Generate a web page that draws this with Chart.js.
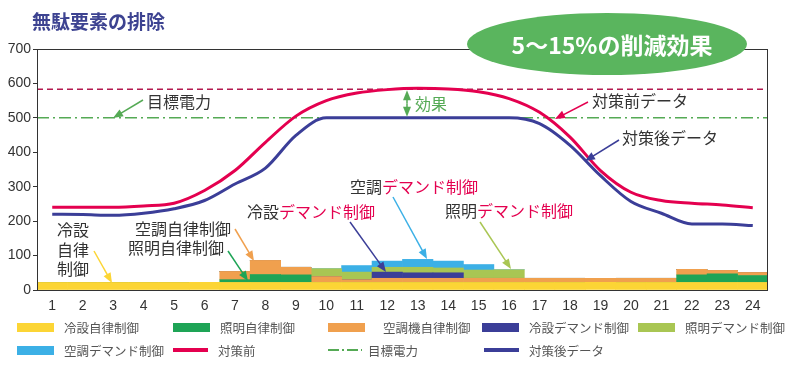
<!DOCTYPE html>
<html lang="ja">
<head>
<meta charset="utf-8">
<script src="https://cdn.jsdelivr.net/npm/chart.js@4.4.1/dist/chart.umd.min.js"></script>
<style>
    body { margin: 0; background: #fff; }
    #quadro { position: relative; width: 800px; height: 365px; overflow: hidden; }
    #legenda .item { position: absolute; display: flex; align-items: center; height: 18px;
        font: 12.5px "Noto Sans CJK JP", sans-serif; color: #555; white-space: nowrap; }
    #legenda .amostra { flex: none; }
</style>
</head>
<body>
<div id="quadro">
    <canvas id="grafico-demanda" width="800" height="365"></canvas>
    <div id="legenda"></div>
</div>
<script>
// Dados do gráfico
const horas = ["1", "2", "3", "4", "5", "6", "7", "8", "9", "10", "11", "12",
    "13", "14", "15", "16", "17", "18", "19", "20", "21", "22", "23", "24"];

const reitoJiritsu = [22, 22, 22, 22, 22, 22, 22, 22, 22, 22, 22, 22, 22, 22, 22, 22, 22, 22, 22, 22, 22, 22, 22, 22];
const shomeiJiritsu = [0, 0, 0, 0, 0, 0, 8, 23, 22, 0, 0, 0, 0, 0, 0, 0, 0, 0, 0, 0, 0, 22, 25, 20];
const kuchoJiritsu = [0, 0, 0, 0, 0, 0, 24, 41, 22, 17, 8, 12, 12, 12, 12, 12, 12, 12, 12, 12, 12, 16, 10, 9];
const reitoDemand = [0, 0, 0, 0, 0, 0, 0, 0, 0, 0, 0, 18, 16, 16, 0, 0, 0, 0, 0, 0, 0, 0, 0, 0];
const shomeiDemand = [0, 0, 0, 0, 0, 0, 0, 0, 0, 23, 22, 14, 16, 14, 24, 25, 0, 0, 0, 0, 0, 0, 0, 0];
const kuchoDemand = [0, 0, 0, 0, 0, 0, 0, 0, 0, 0, 19, 18, 23, 20, 16, 0, 0, 0, 0, 0, 0, 0, 0, 0];

const taisakuMae = [240, 240, 240, 244, 252, 289, 347, 429, 505, 550, 572, 582, 586, 584, 576, 556, 516, 444, 347, 284, 260, 252, 247, 239];
const taisakuGo = [220, 219, 217, 223, 236, 260, 308, 354, 449, 500, 500, 500, 500, 500, 500, 500, 483, 420, 332, 257, 223, 192, 192, 187];

const mokuhyoDenryoku = 500;
const picoAntes = 583;

// Cores
const amarelo = "#fcd535";
const verde = "#1ea456";
const laranja = "#f0a04e";
const azulEscuro = "#3b3e98";
const verdeClaro = "#a9c653";
const azulClaro = "#3cb0e6";
const vermelho = "#e4004f";
const verdeMeta = "#55aa55";
const texto = "#333";

const fonteJp = '"Noto Sans CJK JP", sans-serif';

// Datasets
const barra = (label, data, cor) => ({
    type: "bar", label, data, backgroundColor: cor, stack: "barras",
    barPercentage: 1, categoryPercentage: 1, borderWidth: 0
});

const dadosDemanda = {
    labels: horas,
    datasets: [
        {
            type: "line", label: "対策前", data: taisakuMae, stack: "antes",
            borderColor: vermelho, borderWidth: 3, pointRadius: 0,
            cubicInterpolationMode: "monotone", fill: false
        },
        {
            type: "line", label: "対策後データ", data: taisakuGo, stack: "depois",
            borderColor: azulEscuro, borderWidth: 3, pointRadius: 0,
            cubicInterpolationMode: "monotone", fill: false
        },
        barra("冷設自律制御", reitoJiritsu, amarelo),
        barra("照明自律制御", shomeiJiritsu, verde),
        barra("空調機自律制御", kuchoJiritsu, laranja),
        barra("冷設デマンド制御", reitoDemand, azulEscuro),
        barra("照明デマンド制御", shomeiDemand, verdeClaro),
        barra("空調デマンド制御", kuchoDemand, azulClaro)
    ]
};

// Anotações (posições em pixels da figura)
const anotacoes = [
    { partes: [["目標電力", texto]], x: 147, y: 102, seta: [143, 100, 113, 118], corSeta: verdeMeta },
    { partes: [["対策前データ", texto]], x: 592, y: 101, seta: [588, 102, 555, 119], corSeta: vermelho },
    { partes: [["対策後データ", texto]], x: 622, y: 138, seta: [619, 140, 585, 161], corSeta: azulEscuro },
    { partes: [["冷設", texto]], x: 57, y: 230 },
    { partes: [["自律", texto]], x: 57, y: 250 },
    { partes: [["制御", texto]], x: 57, y: 269, seta: [94, 251, 112, 283], corSeta: amarelo },
    { partes: [["空調自律制御", texto]], x: 135, y: 229, seta: [235, 229, 254, 261], corSeta: laranja },
    { partes: [["照明自律制御", texto]], x: 128, y: 248, seta: [228, 251, 248, 281], corSeta: verde },
    { partes: [["冷設", texto], ["デマンド制御", vermelho]], x: 247, y: 212, seta: [350, 222, 386, 272], corSeta: azulEscuro },
    { partes: [["空調", texto], ["デマンド制御", vermelho]], x: 350, y: 187, seta: [393, 197, 427, 259], corSeta: azulClaro },
    { partes: [["照明", texto], ["デマンド制御", vermelho]], x: 445, y: 211, seta: [480, 222, 511, 269], corSeta: verdeClaro }
];

function desenharSeta(ctx, x1, y1, x2, y2, cor) {
    const ang = Math.atan2(y2 - y1, x2 - x1);
    const tam = 10, larg = 4;
    ctx.strokeStyle = cor;
    ctx.fillStyle = cor;
    ctx.lineWidth = 1.5;
    ctx.setLineDash([]);
    ctx.beginPath();
    ctx.moveTo(x1, y1);
    ctx.lineTo(x2 - Math.cos(ang) * tam * 0.7, y2 - Math.sin(ang) * tam * 0.7);
    ctx.stroke();
    ctx.beginPath();
    ctx.moveTo(x2, y2);
    ctx.lineTo(x2 - tam * Math.cos(ang) + larg * Math.sin(ang), y2 - tam * Math.sin(ang) - larg * Math.cos(ang));
    ctx.lineTo(x2 - tam * Math.cos(ang) - larg * Math.sin(ang), y2 - tam * Math.sin(ang) + larg * Math.cos(ang));
    ctx.closePath();
    ctx.fill();
}

// Plugin: linhas de referência, moldura, título e anotações
const pluginDesenho = {
    id: "desenho",
    beforeDatasetsDraw(chart) {
        const { ctx, chartArea, scales } = chart;
        ctx.save();
        // linha tracejada do pico antes
        let y = scales.y.getPixelForValue(picoAntes);
        ctx.strokeStyle = "#b3194f";
        ctx.lineWidth = 1.5;
        ctx.setLineDash([6, 4]);
        ctx.beginPath();
        ctx.moveTo(chartArea.left, y);
        ctx.lineTo(chartArea.right, y);
        ctx.stroke();
        // linha da meta (traço-ponto)
        y = scales.y.getPixelForValue(mokuhyoDenryoku);
        ctx.strokeStyle = verdeMeta;
        ctx.setLineDash([12, 4, 2, 4]);
        ctx.beginPath();
        ctx.moveTo(chartArea.left, y);
        ctx.lineTo(chartArea.right, y);
        ctx.stroke();
        ctx.restore();
    },
    afterDraw(chart) {
        const { ctx, chartArea, scales } = chart;
        ctx.save();
        // moldura
        ctx.strokeStyle = "#333";
        ctx.lineWidth = 1;
        ctx.strokeRect(chartArea.left + 0.5, chartArea.top + 0.5, chartArea.right - chartArea.left - 1, chartArea.bottom - chartArea.top);

        // título
        ctx.fillStyle = "#3d4391";
        ctx.font = "bold 19px " + fonteJp;
        ctx.textBaseline = "middle";
        ctx.textAlign = "left";
        ctx.fillText("無駄要素の排除", 32, 22);

        // elipse verde
        ctx.fillStyle = "#5ab55e";
        ctx.beginPath();
        ctx.ellipse(607, 44, 140, 31, 0, 0, Math.PI * 2);
        ctx.fill();
        ctx.fillStyle = "#fff";
        ctx.font = "bold 23px " + fonteJp;
        ctx.textAlign = "center";
        ctx.fillText("5〜15%の削減効果", 612, 45);

        // seta dupla "効果"
        const yPico = scales.y.getPixelForValue(picoAntes);
        const yMeta = scales.y.getPixelForValue(mokuhyoDenryoku);
        const xEfeito = 407;
        desenharSeta(ctx, xEfeito, (yPico + yMeta) / 2, xEfeito, yPico + 1, verdeMeta);
        desenharSeta(ctx, xEfeito, (yPico + yMeta) / 2, xEfeito, yMeta - 1, verdeMeta);
        ctx.fillStyle = verdeMeta;
        ctx.font = "16px " + fonteJp;
        ctx.textAlign = "left";
        ctx.fillText("効果", 415, 104);

        // anotações
        anotacoes.forEach(a => {
            if (a.seta) desenharSeta(ctx, ...a.seta, a.corSeta);
            ctx.font = "16px " + fonteJp;
            ctx.textAlign = "left";
            ctx.textBaseline = "middle";
            let x = a.x;
            a.partes.forEach(([t, cor]) => {
                ctx.fillStyle = cor;
                ctx.fillText(t, x, a.y);
                x += ctx.measureText(t).width;
            });
        });
        ctx.restore();
    }
};

// Configuração
const configDemanda = {
    data: dadosDemanda,
    options: {
        responsive: false,
        animation: false,
        devicePixelRatio: 1,
        layout: { padding: { top: 49, right: 32, left: 0, bottom: 0 } },
        plugins: {
            legend: { display: false },
            tooltip: { enabled: false }
        },
        scales: {
            x: {
                stacked: true,
                grid: { display: false, drawTicks: false },
                border: { display: false },
                ticks: { color: texto, padding: 8, font: { family: '"Liberation Sans", Arial', size: 14 }, maxRotation: 0 },
                afterFit: (scale) => { scale.height = 75; }
            },
            y: {
                stacked: true,
                min: 0,
                max: 700,
                grid: { display: true, drawOnChartArea: false, drawTicks: true, tickLength: 4, color: "#333" },
                border: { display: true, color: "#333" },
                ticks: { stepSize: 100, color: texto, padding: 2, font: { family: '"Liberation Sans", Arial', size: 14 } },
                afterFit: (scale) => { scale.width = 37; }
            }
        }
    },
    plugins: [pluginDesenho]
};

let graficoDemanda = new Chart(document.getElementById("grafico-demanda"), configDemanda);

// Legenda em HTML (ordem e posições da figura)
const itensLegenda = [
    { label: "冷設自律制御", tipo: "caixa", cor: amarelo, x: 17, y: 327 },
    { label: "照明自律制御", tipo: "caixa", cor: verde, x: 173, y: 327 },
    { label: "空調機自律制御", tipo: "caixa", cor: laranja, x: 328, y: 327, gap: 18 },
    { label: "冷設デマンド制御", tipo: "caixa", cor: azulEscuro, x: 482, y: 327 },
    { label: "照明デマンド制御", tipo: "caixa", cor: verdeClaro, x: 638, y: 327 },
    { label: "空調デマンド制御", tipo: "caixa", cor: azulClaro, x: 17, y: 350 },
    { label: "対策前", tipo: "linha", cor: vermelho, x: 173, y: 350 },
    { label: "目標電力", tipo: "meta", cor: verdeMeta, x: 328, y: 350, gap: 6 },
    { label: "対策後データ", tipo: "linha", cor: azulEscuro, x: 484, y: 350 }
];

const legenda = document.getElementById("legenda");
itensLegenda.forEach(item => {
    const div = document.createElement("div");
    div.className = "item";
    div.style.left = item.x + "px";
    div.style.top = (item.y - 9) + "px";
    const amostra = document.createElement("span");
    amostra.className = "amostra";
    if (item.tipo === "caixa") {
        amostra.style.cssText = `width:37px;height:9px;background:${item.cor};`;
    } else if (item.tipo === "linha") {
        amostra.style.cssText = `width:35px;height:4px;background:${item.cor};`;
    } else {
        amostra.style.cssText = `width:34px;height:2px;background:repeating-linear-gradient(to right, ${item.cor} 0 11px, transparent 11px 14px, ${item.cor} 14px 16px, transparent 16px 19px);`;
    }
    const rotulo = document.createElement("span");
    rotulo.textContent = item.label;
    rotulo.style.marginLeft = (item.gap || 10) + "px";
    div.appendChild(amostra);
    div.appendChild(rotulo);
    legenda.appendChild(div);
});
</script>
</body>
</html>
